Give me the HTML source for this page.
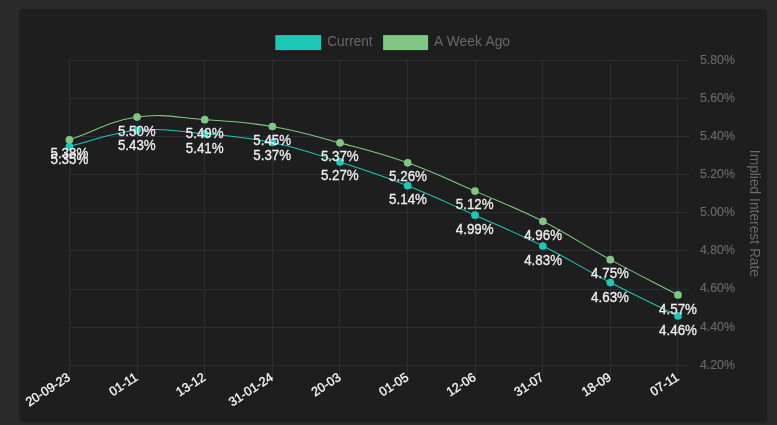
<!DOCTYPE html>
<html lang="en"><head><meta charset="utf-8"><title>Implied Interest Rate</title>
<style>
html,body{margin:0;padding:0;background:#2a2a2a;}
body{width:777px;height:425px;overflow:hidden;position:relative;font-family:"Liberation Sans",Arial,Helvetica,sans-serif;}
svg{position:absolute;left:0;top:0;display:block;font-family:"Liberation Sans",Arial,Helvetica,sans-serif;}
</style></head><body>
<svg width="777" height="425" viewBox="0 0 777 425">
<rect x="19.3" y="9" width="747.9" height="413.2" rx="3.5" fill="#1e1e1e"/>
<g fill="#2a2e39" shape-rendering="crispEdges"><rect x="69" y="60" width="1" height="316"/><rect x="137" y="60" width="1" height="316"/><rect x="204" y="60" width="1" height="316"/><rect x="272" y="60" width="1" height="316"/><rect x="339" y="60" width="1" height="316"/><rect x="407" y="60" width="1" height="316"/><rect x="475" y="60" width="1" height="316"/><rect x="542" y="60" width="1" height="316"/><rect x="610" y="60" width="1" height="316"/><rect x="677" y="60" width="1" height="316"/><rect x="69" y="60" width="620" height="1"/><rect x="69" y="98" width="620" height="1"/><rect x="69" y="136" width="620" height="1"/><rect x="69" y="174" width="620" height="1"/><rect x="69" y="212" width="620" height="1"/><rect x="69" y="250" width="620" height="1"/><rect x="69" y="289" width="620" height="1"/><rect x="69" y="327" width="620" height="1"/><rect x="69" y="365" width="620" height="1"/></g>
<g fill="#696969" stroke="#696969" stroke-width="0.15" font-size="12.30"><text transform="translate(700.00 64.33) scale(1 1.020)">5.80%</text><text transform="translate(700.00 102.25) scale(1 1.020)">5.60%</text><text transform="translate(700.00 139.78) scale(1 1.020)">5.40%</text><text transform="translate(700.00 177.70) scale(1 1.020)">5.20%</text><text transform="translate(700.00 215.83) scale(1 1.020)">5.00%</text><text transform="translate(700.00 253.95) scale(1 1.020)">4.80%</text><text transform="translate(700.00 292.18) scale(1 1.020)">4.60%</text><text transform="translate(700.00 331.10) scale(1 1.020)">4.40%</text><text transform="translate(700.00 369.33) scale(1 1.020)">4.20%</text></g>
<g text-anchor="middle" fill="#696969" font-size="13.80"><text transform="translate(750.00 213.40) rotate(90.00) scale(1 1.020)">Implied Interest Rate</text></g>
<g fill="#f6f6f6" stroke="#f6f6f6" stroke-width="0.32" font-size="12.55"><text transform="translate(71.20 379.40) rotate(-33.00) scale(1 1.020)" text-anchor="end">20-09-23</text><text transform="translate(138.80 379.40) rotate(-33.00) scale(1 1.020)" text-anchor="end">01-<tspan letter-spacing="-0.9">1</tspan>1</text><text transform="translate(206.50 379.40) rotate(-33.00) scale(1 1.020)" text-anchor="end">13-12</text><text transform="translate(274.20 379.40) rotate(-33.00) scale(1 1.020)" text-anchor="end">31-01-24</text><text transform="translate(341.80 379.40) rotate(-33.00) scale(1 1.020)" text-anchor="end">20-03</text><text transform="translate(409.50 379.40) rotate(-33.00) scale(1 1.020)" text-anchor="end">01-05</text><text transform="translate(476.80 379.40) rotate(-33.00) scale(1 1.020)" text-anchor="end">12-06</text><text transform="translate(544.70 379.40) rotate(-33.00) scale(1 1.020)" text-anchor="end">31-07</text><text transform="translate(612.10 379.40) rotate(-33.00) scale(1 1.020)" text-anchor="end">18-09</text><text transform="translate(679.80 379.40) rotate(-33.00) scale(1 1.020)" text-anchor="end">07-<tspan letter-spacing="-0.9">1</tspan>1</text></g>
<rect x="275.3" y="35.1" width="45.9" height="15" fill="#1cc9b6"/>
<rect x="383.1" y="35.1" width="45" height="15" fill="#81c784"/>
<g fill="#696969" font-size="13.60"><text transform="translate(327.30 46.40) scale(1 1.020)">Current</text><text transform="translate(434.00 46.40) scale(1 1.020)" word-spacing="0.6" font-size="13.8">A Week Ago</text></g>
<path d="M69.40 146.48 C96.44 140.02 109.60 132.89 137.00 130.33 C163.72 127.84 177.71 131.42 204.70 133.84 C231.87 136.28 245.75 136.94 272.40 142.47 C299.87 148.17 313.21 153.37 340.00 161.93 C367.33 170.67 381.02 175.18 407.70 185.71 C435.02 196.49 448.16 203.24 475.00 215.21 C502.24 227.35 516.22 232.73 542.90 246.01 C570.34 259.66 583.07 268.44 610.30 282.53 C637.11 296.41 650.92 302.57 678.00 315.94" fill="none" stroke="#1cc9b6" stroke-width="1.05"/>
<g fill="#1cc9b6"><circle cx="69.40" cy="146.48" r="3.85"/><circle cx="137.00" cy="130.33" r="3.85"/><circle cx="204.70" cy="133.84" r="3.85"/><circle cx="272.40" cy="142.47" r="3.85"/><circle cx="340.00" cy="161.93" r="3.85"/><circle cx="407.70" cy="185.71" r="3.85"/><circle cx="475.00" cy="215.21" r="3.85"/><circle cx="542.90" cy="246.01" r="3.85"/><circle cx="610.30" cy="282.53" r="3.85"/><circle cx="678.00" cy="315.94" r="3.85"/></g>
<path d="M69.40 139.76 C96.44 130.69 109.25 121.20 137.00 117.09 C163.37 113.18 177.68 117.81 204.70 119.69 C231.84 121.58 245.64 121.93 272.40 126.52 C299.76 131.20 313.14 135.66 340.00 142.87 C367.26 150.19 381.15 153.35 407.70 162.84 C435.15 172.65 448.20 179.53 475.00 191.12 C502.28 202.93 516.41 207.91 542.90 221.32 C570.53 235.32 583.07 244.81 610.30 259.66 C637.11 274.27 650.92 280.84 678.00 294.97" fill="none" stroke="#81c784" stroke-width="1.05"/>
<g fill="#81c784"><circle cx="69.40" cy="139.76" r="3.85"/><circle cx="137.00" cy="117.09" r="3.85"/><circle cx="204.70" cy="119.69" r="3.85"/><circle cx="272.40" cy="126.52" r="3.85"/><circle cx="340.00" cy="142.87" r="3.85"/><circle cx="407.70" cy="162.84" r="3.85"/><circle cx="475.00" cy="191.12" r="3.85"/><circle cx="542.90" cy="221.32" r="3.85"/><circle cx="610.30" cy="259.66" r="3.85"/><circle cx="678.00" cy="294.97" r="3.85"/></g>
<g fill="#efefef" stroke="#efefef" stroke-width="0.28" font-size="13.35" text-anchor="middle"><text transform="translate(69.40 164.29) scale(1 1.040)">5.35%</text><text transform="translate(136.80 149.94) scale(1 1.040)">5.43%</text><text transform="translate(204.70 153.05) scale(1 1.040)">5.41%</text><text transform="translate(272.20 160.17) scale(1 1.040)">5.37%</text><text transform="translate(339.80 180.44) scale(1 1.040)">5.27%</text><text transform="translate(408.00 204.22) scale(1 1.040)">5.14%</text><text transform="translate(474.70 233.81) scale(1 1.040)">4.99%</text><text transform="translate(543.10 264.51) scale(1 1.040)">4.83%</text><text transform="translate(610.00 301.74) scale(1 1.040)">4.63%</text><text transform="translate(678.00 335.04) scale(1 1.040)">4.46%</text><text transform="translate(69.40 158.42) scale(1 1.040)">5.38%</text><text transform="translate(136.80 135.79) scale(1 1.040)">5.50%</text><text transform="translate(204.70 137.90) scale(1 1.040)">5.49%</text><text transform="translate(272.20 144.72) scale(1 1.040)">5.45%</text><text transform="translate(339.80 160.87) scale(1 1.040)">5.37%</text><text transform="translate(408.00 181.34) scale(1 1.040)">5.26%</text><text transform="translate(474.70 208.93) scale(1 1.040)">5.12%</text><text transform="translate(543.10 240.33) scale(1 1.040)">4.96%</text><text transform="translate(610.00 277.96) scale(1 1.040)">4.75%</text><text transform="translate(678.00 314.07) scale(1 1.040)">4.57%</text></g>
</svg>
</body></html>
